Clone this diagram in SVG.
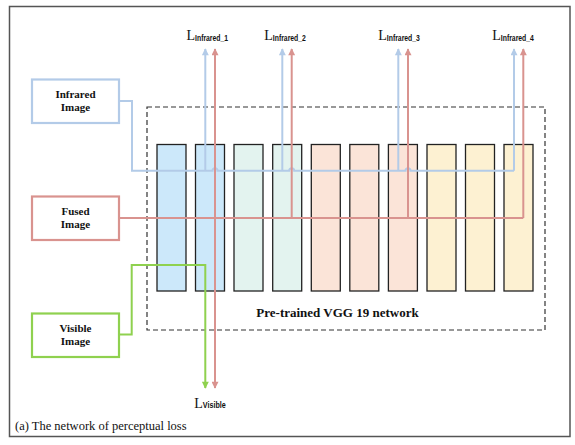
<svg xmlns="http://www.w3.org/2000/svg" width="575" height="445" viewBox="0 0 575 445">
<style>
.box{fill:#fff;stroke-width:2.2}
.lbl{font-family:"Liberation Serif",serif;font-weight:bold;font-size:11px;fill:#111;text-anchor:middle}
.col{stroke:#222;stroke-width:1.3}
.b{fill:none;stroke:#b3cbe8;stroke-width:2}
.r{fill:none;stroke:#d9938f;stroke-width:2}
.g{fill:none;stroke:#8fd14f;stroke-width:2}
.L{font-family:"Liberation Serif",serif;font-size:14px;fill:#111}
.sub{font-family:"Liberation Sans",sans-serif;font-weight:bold;font-size:8.5px;fill:#111}
</style>
<defs>
<marker id="ab" viewBox="0 0 10 10" refX="9" refY="5" markerWidth="4.5" markerHeight="3.5" orient="auto" markerUnits="strokeWidth"><path d="M0,0 L10,5 L0,10 z" fill="#b3cbe8"/></marker>
<marker id="ar" viewBox="0 0 10 10" refX="9" refY="5" markerWidth="4.5" markerHeight="3.5" orient="auto" markerUnits="strokeWidth"><path d="M0,0 L10,5 L0,10 z" fill="#d9938f"/></marker>
<marker id="ag" viewBox="0 0 10 10" refX="9" refY="5" markerWidth="4.5" markerHeight="3.5" orient="auto" markerUnits="strokeWidth"><path d="M0,0 L10,5 L0,10 z" fill="#8fd14f"/></marker>
</defs>
<rect x="0" y="0" width="575" height="445" fill="#fff"/>
<rect x="9.5" y="6.5" width="560.5" height="430" fill="none" stroke="#555" stroke-width="1.5"/>

<g id="vgg">
<rect x="147" y="107" width="398" height="223" fill="none" stroke="#333" stroke-width="1.2" stroke-dasharray="5,3"/>
<rect class="col" x="157" y="144.5" width="29" height="146.5" fill="#cce8fa"/>
<rect class="col" x="195.5" y="144.5" width="29" height="146.5" fill="#cce8fa"/>
<rect class="col" x="234" y="144.5" width="29" height="146.5" fill="#e3f3ef"/>
<rect class="col" x="272.7" y="144.5" width="29" height="146.5" fill="#e3f3ef"/>
<rect class="col" x="311.3" y="144.5" width="29" height="146.5" fill="#fbe4d8"/>
<rect class="col" x="349.8" y="144.5" width="29" height="146.5" fill="#fbe4d8"/>
<rect class="col" x="388.4" y="144.5" width="29" height="146.5" fill="#fbe4d8"/>
<rect class="col" x="427" y="144.5" width="29" height="146.5" fill="#fdf1d2"/>
<rect class="col" x="465.5" y="144.5" width="29" height="146.5" fill="#fdf1d2"/>
<rect class="col" x="504" y="144.5" width="29" height="146.5" fill="#fdf1d2"/>
<text x="337.5" y="317" font-family="Liberation Serif, serif" font-weight="bold" font-size="13" fill="#111" text-anchor="middle">Pre-trained VGG 19 network</text>
</g>

<g id="infrared">
<rect class="box" x="32" y="79.5" width="87" height="43.5" stroke="#b3cbe8"/>
<text class="lbl" x="75.5" y="98">Infrared</text>
<text class="lbl" x="75.5" y="111">Image</text>
</g>
<g id="fused">
<rect class="box" x="32" y="196.5" width="87" height="43.5" stroke="#d9938f"/>
<text class="lbl" x="75.5" y="215">Fused</text>
<text class="lbl" x="75.5" y="228">Image</text>
</g>
<g id="visible">
<rect class="box" x="32" y="313.5" width="87" height="43.5" stroke="#8fd14f"/>
<text class="lbl" x="75.5" y="332">Visible</text>
<text class="lbl" x="75.5" y="345">Image</text>
</g>

<g id="connectors">
<path class="b" d="M119,101 H132 V170.7 H212.5 a2.5,2.5 0 0 1 5,0 H289.2 a2.5,2.5 0 0 1 5,0 H405.5 a2.5,2.5 0 0 1 5,0 H514"/>
<path class="b" d="M205.3,170.7 V49" marker-end="url(#ab)"/>
<path class="b" d="M282.3,170.7 V49" marker-end="url(#ab)"/>
<path class="b" d="M398.3,170.7 V49" marker-end="url(#ab)"/>
<path class="b" d="M514,170.7 V49" marker-end="url(#ab)"/>
<path class="r" d="M119,218 H523.3"/>
<path class="r" d="M215,218 V49" marker-end="url(#ar)"/>
<path class="r" d="M291.7,218 V49" marker-end="url(#ar)"/>
<path class="r" d="M408,218 V49" marker-end="url(#ar)"/>
<path class="r" d="M523.3,218 V49" marker-end="url(#ar)"/>
<path class="r" d="M215,218 V388" marker-end="url(#ar)"/>
<path class="g" d="M119,334.5 H131.7 V265 H205.3 V388" marker-end="url(#ag)"/>
</g>

<g id="labels">
<text class="L" x="186.5" y="40">L<tspan class="sub" dy="0.5" textLength="33" lengthAdjust="spacingAndGlyphs">Infrared_1</tspan></text>
<text class="L" x="264.3" y="40">L<tspan class="sub" dy="0.5" textLength="33" lengthAdjust="spacingAndGlyphs">Infrared_2</tspan></text>
<text class="L" x="378.3" y="40">L<tspan class="sub" dy="0.5" textLength="33" lengthAdjust="spacingAndGlyphs">Infrared_3</tspan></text>
<text class="L" x="492.3" y="40">L<tspan class="sub" dy="0.5" textLength="33" lengthAdjust="spacingAndGlyphs">Infrared_4</tspan></text>
<text class="L" x="194.3" y="407.5">L<tspan class="sub" dy="0.5" textLength="23" lengthAdjust="spacingAndGlyphs">Visible</tspan></text>
</g>
<text x="15" y="430" font-family="Liberation Serif, serif" font-size="12.5" fill="#111">(a) The network of perceptual loss</text>
</svg>
